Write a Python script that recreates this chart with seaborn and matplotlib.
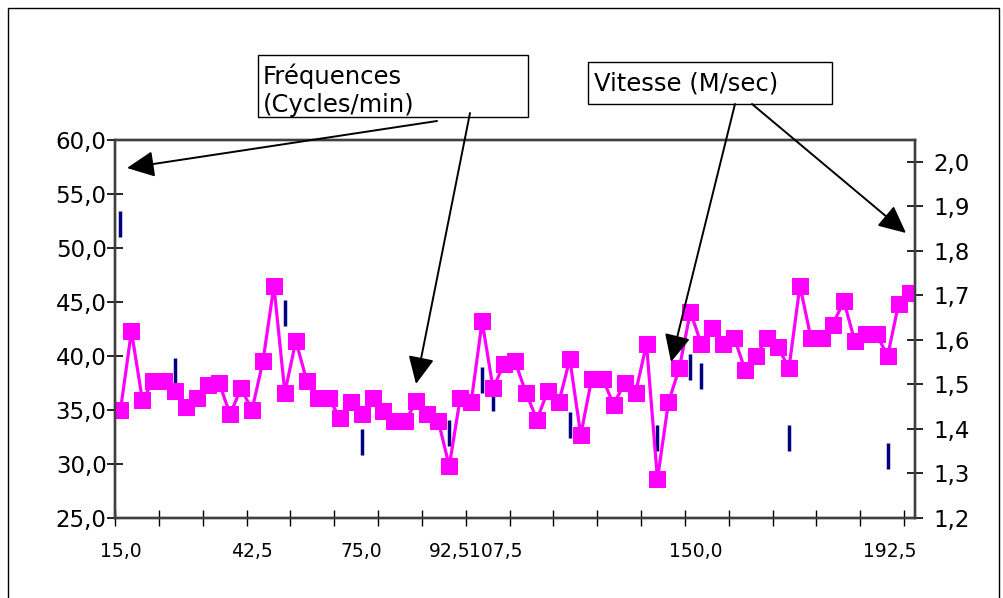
import numpy as np
import pandas as pd
import matplotlib
matplotlib.use("Agg")
import matplotlib.pyplot as plt
from matplotlib.patches import Rectangle, FancyArrowPatch
from matplotlib.ticker import FixedLocator, FuncFormatter
import seaborn as sns

# ---------------- data ----------------
frequences = [35.0, 42.3, 35.9, 37.7, 37.7, 36.8, 35.3, 36.1, 37.3, 37.5,
              34.6, 37.0, 35.0, 39.5, 46.5, 36.6, 41.4, 37.7, 36.1, 36.1,
              34.3, 35.7, 34.6, 36.1, 34.9, 34.0, 34.0, 35.8, 34.6, 34.0,
              29.8, 36.1, 35.7, 43.2, 37.0, 39.3, 39.5, 36.6, 34.1, 36.8,
              35.7, 39.7, 32.7, 37.9, 37.9, 35.5, 37.5, 36.6, 41.1, 28.6,
              35.7, 38.9, 44.1, 41.1, 42.6, 41.1, 41.7, 38.7, 40.0, 41.7,
              40.8, 38.9, 46.5, 41.7, 41.7, 42.9, 45.1, 41.4, 42.0, 42.0,
              40.0, 44.8, 45.8]
vitesse_idx = [0, 5, 15, 22, 30, 33, 34, 41, 49, 52, 53, 61, 70]
vitesse_val = [1.86, 1.53, 1.66, 1.37, 1.39, 1.51, 1.47, 1.41, 1.38, 1.54, 1.52, 1.38, 1.34]
x_label_pos = [0, 12, 22, 30, 34.2, 52.5, 70.2]
x_labels = ["15,0", "42,5", "75,0", "92,5", "107,5", "150,0", "192,5"]
left_ticks = [25, 30, 35, 40, 45, 50, 55, 60]
right_ticks = [1.2, 1.3, 1.4, 1.5, 1.6, 1.7, 1.8, 1.9, 2.0]

df_f = pd.DataFrame({"idx": np.arange(len(frequences)), "freq": frequences})
df_v = pd.DataFrame({"idx": vitesse_idx, "vit": vitesse_val})

# ---------------- style ----------------
sns.set_theme(style="white")
plt.rcParams["font.family"] = ["DejaVu Sans"]

W, H = 1004, 598
fig = plt.figure(figsize=(W / 100, H / 100), dpi=100)
fig.patch.set_facecolor("white")

def fx(px):
    return px / W

def fy(py):
    return 1 - py / H

# chart-area border
fig.patches.append(Rectangle((fx(8), fy(640)), fx(991), (640 - 8) / H,
                             transform=fig.transFigure, fill=False,
                             edgecolor="black", lw=1.0))

L, R, T, B = 115, 915, 140, 518
ax = fig.add_axes([fx(L), fy(B), (R - L) / W, (B - T) / H])
ax2 = ax.twinx()

sns.lineplot(data=df_f, x="idx", y="freq", ax=ax, color="#FF00FF",
             linewidth=2.3, marker="s", markersize=11,
             markeredgecolor="#FF00FF", markerfacecolor="#FF00FF")
sns.scatterplot(data=df_v, x="idx", y="vit", ax=ax2, marker="|",
                s=19 ** 2, linewidth=2.5, color="#000080", zorder=5)

ax.set_zorder(ax2.get_zorder() + 1)
ax.patch.set_visible(False)

ax.set_xlim(-0.5, 72.5)
ax.set_ylim(25, 60)
ax2.set_ylim(1.2, 2.049)

for a in (ax, ax2):
    a.set_xlabel("")
    a.set_ylabel("")

comma = lambda fmt: FuncFormatter(lambda v, p: (fmt % v).replace(".", ","))
ax.yaxis.set_major_locator(FixedLocator(left_ticks))
ax.yaxis.set_major_formatter(comma("%.1f"))
ax2.yaxis.set_major_locator(FixedLocator(right_ticks))
ax2.yaxis.set_major_formatter(comma("%.1f"))

ax.set_xticks(x_label_pos)
ax.set_xticklabels(x_labels)
ax.set_xticks(np.arange(-0.5, 72, 4), minor=True)

spine_c = "#404040"
for a in (ax, ax2):
    for s in a.spines.values():
        s.set_color(spine_c)
        s.set_linewidth(1.7)

ax.tick_params(axis="y", which="major", direction="inout", length=12,
               width=1.2, color="black", labelsize=16.5, pad=0,
               left=True, right=False, labelcolor="black")
ax2.tick_params(axis="y", which="major", direction="inout", length=12,
                width=1.2, color="black", labelsize=16.5, pad=7,
                right=True, labelcolor="black")
ax.tick_params(axis="x", which="major", length=0, labelsize=13.5, pad=17,
               labelcolor="black")
ax.tick_params(axis="x", which="minor", direction="inout", length=12,
               width=1.0, color="black", bottom=True)

# text boxes
fig.patches.append(Rectangle((fx(258), fy(117)), fx(528 - 258), (117 - 55) / H,
                             transform=fig.transFigure, facecolor="white",
                             edgecolor="black", lw=1.0, zorder=3))
fig.patches.append(Rectangle((fx(588), fy(104)), fx(832 - 588), (104 - 62) / H,
                             transform=fig.transFigure, facecolor="white",
                             edgecolor="black", lw=1.0, zorder=3))
fig.text(fx(263), fy(84), "Fréquences", fontsize=17.5, va="baseline",
         ha="left", color="black", zorder=4)
fig.text(fx(263), fy(112), "(Cycles/min)", fontsize=17.5, va="baseline",
         ha="left", color="black", zorder=4)
fig.text(fx(594), fy(90), "Vitesse (M/sec)", fontsize=17.5, va="baseline",
         ha="left", color="black", zorder=4)

arrows = [((437, 121), (127, 168)),
          ((470, 113), (416, 384)),
          ((735, 104), (671, 362)),
          ((752, 104), (906, 233))]
for (x0, y0), (x1, y1) in arrows:
    fig.add_artist(FancyArrowPatch(
        (fx(x0), fy(y0)), (fx(x1), fy(y1)), transform=fig.transFigure,
        arrowstyle="-|>,head_length=1.05,head_width=0.5", mutation_scale=16,
        color="black", lw=1.4, shrinkA=0, shrinkB=0, zorder=6))

fig.savefig("out.png", dpi=100)
